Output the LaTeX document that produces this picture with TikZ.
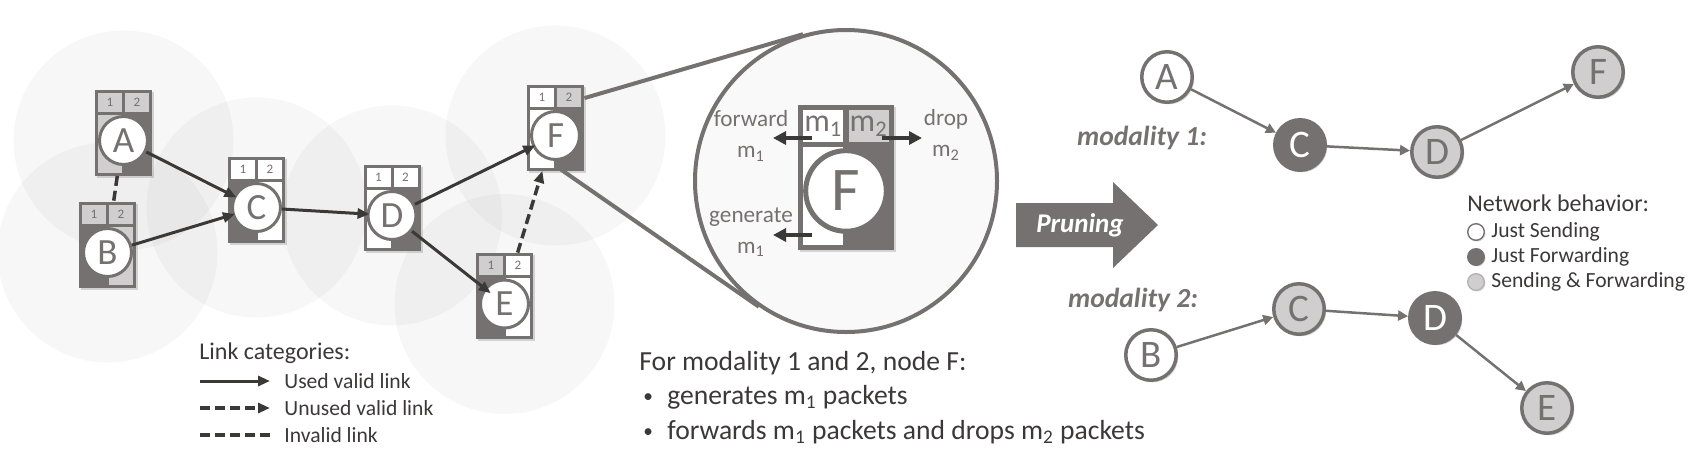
\documentclass[tikz,border=0pt]{standalone}
\usepackage{fontspec}
\setmainfont{Carlito}
\usetikzlibrary{arrows.meta, calc, backgrounds, shadows}

\definecolor{boxgray}{HTML}{767171}
\definecolor{cellgray}{HTML}{D0CECE}
\definecolor{linkgray}{HTML}{3B3838}
\definecolor{zoomfill}{HTML}{FAF9F9}

\tikzstyle{boxframe} = [rectangle, inner sep=0pt, fill=boxgray, drop shadow={shadow xshift=1pt, shadow yshift=-1pt, opacity=0.3}]
\tikzstyle{boxcore} = [circle, inner sep=0pt, fill=white, draw=boxgray, text=boxgray]
\tikzstyle{cellnum} = [inner sep=0pt, text=boxgray, font=\fontsize{6.5}{7}\selectfont]
\tikzstyle{usedlink} = [line width=1.5pt, draw=linkgray, -{Triangle[length=6pt, width=5pt]}]
\tikzstyle{unusedlink} = [usedlink, line width=1.75pt, dash pattern=on 5pt off 2.5pt]
\tikzstyle{invalidlink} = [line width=1.75pt, draw=linkgray, dash pattern=on 5pt off 2.5pt]
\tikzstyle{rangedisk} = [fill=black, opacity=0.032]
\tikzstyle{zoomline} = [line width=2pt, draw=boxgray]
\tikzstyle{action} = [line width=2pt, draw=linkgray, -{Triangle[length=6.5pt, width=6.5pt]}]
\tikzstyle{zoomlabel} = [align=center, text=boxgray, font=\fontsize{11.6}{15.5}\selectfont]
\tikzstyle{pnode} = [circle, minimum size=25.25pt, inner sep=0pt, draw=boxgray, line width=1.75pt, text=boxgray, font=\fontsize{19.5}{19.5}\selectfont, drop shadow={shadow xshift=1pt, shadow yshift=-1pt, opacity=0.3}]
\tikzstyle{sendnode} = [pnode, fill=white]
\tikzstyle{fwdnode} = [pnode, fill=boxgray, text=white]
\tikzstyle{bothnode} = [pnode, fill=cellgray]
\tikzstyle{prunedlink} = [line width=1.25pt, draw=boxgray, -{Triangle[length=5pt, width=5pt]}]
\tikzstyle{modlabel} = [text=boxgray, font=\fontsize{13.8}{16}\selectfont\bfseries\itshape]
\tikzstyle{legtitle} = [anchor=west, inner sep=0pt, text=linkgray, font=\fontsize{12}{14}\selectfont]
\tikzstyle{legtext} = [anchor=west, inner sep=0pt, text=linkgray, font=\fontsize{10.8}{12}\selectfont]
\tikzstyle{notetext} = [anchor=west, inner sep=0pt, text=linkgray, font=\fontsize{13.8}{16}\selectfont]
\tikzstyle{legdot} = [circle, minimum size=8.3pt, inner sep=0pt, draw=boxgray, line width=0.7pt, drop shadow={shadow xshift=0.6pt, shadow yshift=-0.6pt, opacity=0.3}]

% network node: frame, forwarding cells on top, sending columns below, core circle
\newcommand{\modbox}[8]{%
\begin{scope}[shift={#2}, scale=#3]
  \pgfmathsetmacro{\mbw}{28.5*#3}
  \pgfmathsetmacro{\mbh}{43*#3}
  \pgfmathsetmacro{\mbcs}{24*#3}
  \pgfmathsetmacro{\mbcw}{1.5*#3}
  \pgfmathsetmacro{\mbcf}{18.5*#3}
  \node[boxframe, minimum width=\mbw pt, minimum height=\mbh pt] (#1) at (0,0) {};
  \fill[#5] (-25.5,40) rectangle (-1.5,21);
  \fill[#6] (1.5,40) rectangle (25.5,21);
  \fill[#7] (-25.5,18) rectangle (-1.5,-40);
  \fill[#8] (1.5,18) rectangle (25.5,-40);
  \coordinate (#1-h1) at (-13.5,30.5);
  \coordinate (#1-h2) at (13.5,30.5);
  \node[boxcore, minimum size=\mbcs pt, line width=\mbcw pt, font=\fontsize{\mbcf}{\mbcf}\selectfont] (#1-c) at (0,-8) {#4};
\end{scope}}

\newcommand{\smallbullet}{\makebox[12pt][l]{\raisebox{0.15ex}{\scalebox{0.7}{\textbullet}}}}

\begin{document}
\begin{tikzpicture}[x=0.5pt, y=0.5pt]
\useasboundingbox (0,0) rectangle (1702,-462);

% network with the modality boxes
\modbox{A}{(123.5,-132.5)}{1}{A}{cellgray}{cellgray}{cellgray}{boxgray}
\modbox{B}{(107.5,-244.5)}{1}{B}{cellgray}{cellgray}{boxgray}{cellgray}
\modbox{C}{(256.5,-199.5)}{1}{C}{white}{white}{boxgray}{white}
\modbox{D}{(392,-207.5)}{1}{D}{white}{white}{white}{boxgray}
\modbox{E}{(504.5,-296)}{1}{E}{cellgray}{white}{boxgray}{white}
\modbox{F}{(555.5,-127.5)}{1}{F}{white}{cellgray}{white}{boxgray}
\foreach \n in {A,B,C,D,E,F} {
  \node[cellnum] (\n-n1) at (\n-h1) {1};
  \node[cellnum] (\n-n2) at (\n-h2) {2};
}

% zoom on node F
\node[circle, minimum size=151pt, inner sep=0pt, draw=boxgray, line width=2pt, fill=zoomfill] (zoom) at (846,-181) {};
\modbox{Fz}{(846,-177.5)}{1.68}{F}{white}{cellgray}{white}{boxgray}
\node[text=boxgray, font=\fontsize{16}{16}\selectfont] (Fz-m1) at (Fz-h1) {m\textsubscript{1}};
\node[text=boxgray, font=\fontsize{16}{16}\selectfont] (Fz-m2) at (Fz-h2) {m\textsubscript{2}};

\begin{scope}[on background layer]
  \foreach \n in {A,B,C,D,E,F} \fill[rangedisk] (\n-c) circle (110);
  \coordinate (zup) at ($(F.north east)+(0,-14)$);
  \coordinate (zlo) at ($(F.south)+(4.5,2)$);
  \draw[zoomline] (zup) -- (tangent cs:node=zoom,point={(zup)},solution=2);
  \draw[zoomline] (zlo) -- (tangent cs:node=zoom,point={(zlo)},solution=1);
\end{scope}

% links
\draw[invalidlink] (A) -- (B);
\draw[usedlink, shorten >=-1.5pt] (A-c) -- (C-c);
\draw[usedlink, shorten >=-1.5pt] (B-c) -- (C-c);
\draw[usedlink, shorten >=-1.5pt] (C-c) -- (D-c);
\draw[usedlink, shorten >=-1.5pt] (D-c) -- (F-c);
\draw[usedlink, shorten >=-4pt] (D-c) -- (E-c);
\draw[unusedlink] (E) -- (F);

% actions of F
\coordinate (fw0) at (812,-138);
\coordinate (fw1) at (773,-138);
\coordinate (dr0) at (882,-138);
\coordinate (dr1) at (922,-138);
\coordinate (ge0) at (812,-235);
\coordinate (ge1) at (773,-235);
\draw[action] (fw0) -- (fw1);
\draw[action] (dr0) -- (dr1);
\draw[action] (ge0) -- (ge1);
\node[zoomlabel] (fwlab) at (751,-136) {forward\\m\textsubscript{1}};
\node[zoomlabel] (drlab) at (946,-135) {drop\\m\textsubscript{2}};
\node[zoomlabel] (gelab) at (751,-232) {generate\\m\textsubscript{1}};

% link legend
\node[legtitle] (linkcat) at (199,-353) {Link categories:};
\coordinate (u0) at (200,-381);
\coordinate (u1) at (270,-381);
\coordinate (v0) at (200,-408);
\coordinate (v1) at (270,-408);
\coordinate (w0) at (200,-435);
\coordinate (w1) at (270,-435);
\draw[usedlink] (u0) -- (u1);
\draw[unusedlink] (v0) -- (v1);
\draw[invalidlink] (w0) -- (w1);
\node[legtext] (utext) at (284,-381) {Used valid link};
\node[legtext] (vtext) at (284,-408) {Unused valid link};
\node[legtext] (wtext) at (284,-435) {Invalid link};

% note on F
\node[notetext] (note) at (639,-363) {For modality 1 and 2, node F:};
\node[notetext] (note1) at (643,-397) {\smallbullet generates m\textsubscript{1} packets};
\node[notetext] (note2) at (643,-432) {\smallbullet forwards m\textsubscript{1} packets and drops m\textsubscript{2} packets};

% pruning arrow
\fill[boxgray] (1016,-203) -- (1113,-203) -- (1113,-182) -- (1158,-225) -- (1113,-268) -- (1113,-247) -- (1016,-247) -- cycle;
\node[text=white, font=\fontsize{13.5}{16}\selectfont\bfseries\itshape] (prune) at (1080,-225) {Pruning};

% pruned networks
\node[modlabel] (mod1) at (1142,-138) {modality 1:};
\node[sendnode] (a1) at (1167,-77) {A};
\node[fwdnode] (c1) at (1300,-145) {C};
\node[bothnode] (d1) at (1437,-152) {D};
\node[bothnode] (f1) at (1598,-72) {F};
\draw[prunedlink] (a1) -- (c1);
\draw[prunedlink] (c1) -- (d1);
\draw[prunedlink] (d1) -- (f1);

\node[modlabel] (mod2) at (1133,-300) {modality 2:};
\node[sendnode] (b2) at (1151,-355) {B};
\node[bothnode] (c2) at (1299,-309) {C};
\node[fwdnode] (d2) at (1435,-318) {D};
\node[bothnode] (e2) at (1547,-408) {E};
\draw[prunedlink] (b2) -- (c2);
\draw[prunedlink] (c2) -- (d2);
\draw[prunedlink] (d2) -- (e2);

% behavior legend
\node[legtitle] (behav) at (1467,-203) {Network behavior:};
\node[legdot, fill=white] (ls) at (1476,-232) {};
\node[legdot, fill=boxgray] (lf) at (1476,-257) {};
\node[legdot, fill=cellgray, draw=cellgray!70!boxgray] (lb) at (1476,-282) {};
\node[legtext] (lstext) at (1491,-232) {Just Sending};
\node[legtext] (lftext) at (1491,-257) {Just Forwarding};
\node[legtext] (lbtext) at (1491,-282) {Sending \& Forwarding};

\end{tikzpicture}
\end{document}
